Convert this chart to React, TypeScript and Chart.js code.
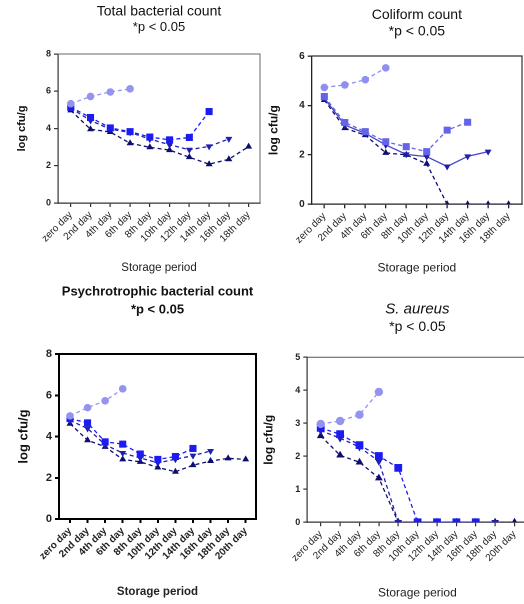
import React, { useEffect, useRef } from 'react';
import { Chart, registerables } from 'chart.js';

Chart.register(...registerables);

// ---------- categories ----------
const days10 = ['zero day', '2nd day', '4th day', '6th day', '8th day', '10th day', '12th day', '14th day', '16th day', '18th day'];
const days11 = ['zero day', '2nd day', '4th day', '6th day', '8th day', '10th day', '12th day', '14th day', '16th day', '18th day', '20th day'];

// ---------- Total bacterial count ----------
const tbcCircle = [5.33, 5.72, 5.96, 6.13];
const tbcSquare = [5.14, 4.59, 4.03, 3.83, 3.54, 3.39, 3.52, 4.91];
const tbcInvTri = [5.09, 4.43, 3.96, 3.79, 3.43, 3.13, 2.86, 3.04, 3.44];
const tbcTri = [4.97, 3.96, 3.81, 3.21, 2.99, 2.84, 2.46, 2.08, 2.35, 3.03];

// ---------- Coliform count ----------
const colCircle = [4.73, 4.83, 5.04, 5.52];
const colSquare = [4.36, 3.31, 2.94, 2.53, 2.33, 2.13, 3.0, 3.32];
const colInvTri = [4.29, 3.21, 2.87, 2.4, 2.02, 1.93, 1.53, 1.94, 2.13];
const colTri = [4.22, 3.08, 2.8, 2.08, 2.0, 1.64, 0, 0, 0, 0];

// ---------- Psychrotrophic bacterial count ----------
const psyCircle = [5.0, 5.4, 5.73, 6.31];
const psySquare = [4.87, 4.66, 3.74, 3.63, 3.15, 2.89, 3.03, 3.42];
const psyInvTri = [4.78, 4.39, 3.6, 3.2, 2.96, 2.72, 2.9, 3.07, 3.3];
const psyTri = [4.62, 3.82, 3.5, 2.89, 2.77, 2.5, 2.29, 2.61, 2.81, 2.94, 2.89];

// ---------- S. aureus ----------
const sauCircle = [2.98, 3.07, 3.26, 3.95];
const sauSquare = [2.86, 2.67, 2.34, 2.01, 1.65, 0, 0, 0, 0];
const sauInvTri = [2.78, 2.55, 2.28, 1.85, 0, 0, 0, 0, 0, 0];
const sauTri = [2.62, 2.03, 1.82, 1.34, 0, 0, 0, 0, 0, 0, 0];

const yTicks8 = 2;
const yTicks5 = 1;

const FONT = "'Liberation Sans', Arial, sans-serif";

const C_CIRCLE = '#9494f0';
const C_SQUARE = '#1c1cf2';
const C_INVTRI = '#1f1fb0';
const C_TRI = '#0e0e6e';

const boxPlugin = {
  id: 'plotBox',
  beforeDatasetsDraw(chart: any, _args: any, opts: any) {
    const { ctx, chartArea: a } = chart;
    ctx.save();
    ctx.strokeStyle = opts.color || '#555';
    ctx.lineWidth = opts.width || 1;
    ctx.beginPath();
    ctx.moveTo(a.left, a.top);
    ctx.lineTo(a.right, a.top);
    ctx.lineTo(a.right, a.bottom);
    ctx.stroke();
    ctx.restore();
  },
};

function series(values: number[], color: string, style: string, opts: any = {}) {
  return {
    data: values.map((v, i) => ({ x: i, y: v })),
    borderColor: opts.lineColor || color,
    backgroundColor: color,
    pointBackgroundColor: color,
    pointBorderColor: color,
    pointBorderWidth: 0,
    pointStyle: style,
    pointRotation: opts.rotation || 0,
    pointRadius: opts.radius || 4,
    borderWidth: opts.lineWidth || 1.3,
    borderDash: opts.solid ? [] : [4, 3],
    fill: false,
    tension: 0,
  };
}

function buildConfig(p: any) {
  return {
    type: 'line',
    data: { datasets: p.datasets },
    plugins: [boxPlugin],
    options: {
      animation: false,
      responsive: false,
      devicePixelRatio: 2,
      layout: { padding: p.padding },
      plugins: {
        legend: { display: false },
        tooltip: { enabled: false },
        plotBox: { color: p.boxColor, width: p.boxWidth },
        title: {
          display: true,
          text: p.title,
          fullSize: false,
          color: '#111',
          font: { family: FONT, size: p.titleSize, weight: p.titleWeight, style: p.titleStyle || 'normal', lineHeight: 1.2 },
          padding: p.titlePad,
        },
        subtitle: {
          display: true,
          text: '*p < 0.05',
          fullSize: false,
          color: '#111',
          font: { family: FONT, size: p.subSize, weight: p.titleWeight, lineHeight: 1.2 },
          padding: p.subPad,
        },
      },
      scales: {
        x: {
          type: 'linear',
          min: p.xMin,
          max: p.xMax,
          afterBuildTicks: (s: any) => {
            s.ticks = p.labels.map((_: string, i: number) => ({ value: i }));
          },
          afterFit: (s: any) => {
            s.height = p.xH;
          },
          ticks: {
            autoSkip: false,
            includeBounds: false,
            minRotation: 45,
            maxRotation: 45,
            padding: 2,
            color: '#222',
            font: { family: FONT, size: p.xTickSize, weight: p.xTickWeight },
            callback: (v: any) => p.labels[Math.round(v)] ?? '',
          },
          grid: { drawOnChartArea: false, drawTicks: true, tickLength: 4, color: p.axisColor, lineWidth: p.axisWidth },
          border: { display: true, color: p.axisColor, width: p.axisWidth },
          title: {
            display: true,
            text: 'Storage period',
            color: '#222',
            font: { family: FONT, size: p.xTitleSize, weight: p.xTitleWeight, lineHeight: 1.2 },
            padding: { top: 0, bottom: 0 },
          },
        },
        y: {
          min: 0,
          max: p.yMax,
          afterFit: (s: any) => {
            s.width = p.yW;
          },
          ticks: {
            stepSize: p.yStep,
            padding: 3,
            color: '#222',
            font: { family: FONT, size: p.yTickSize, weight: 'bold' },
          },
          grid: { drawOnChartArea: false, drawTicks: true, tickLength: 4, color: p.axisColor, lineWidth: p.axisWidth },
          border: { display: true, color: p.axisColor, width: p.axisWidth },
          title: {
            display: true,
            text: 'log cfu/g',
            color: '#111',
            font: { family: FONT, size: p.yTitleSize, weight: 'bold', lineHeight: 1.2 },
            padding: { top: 0, bottom: 0 },
          },
        },
      },
    },
  };
}

const panels: any[] = [
  {
    key: 'tbc',
    left: 0, top: 0, w: 265, h: 280,
    padding: { left: 15.4, right: 0, top: 0, bottom: 5.4 },
    yW: 42.6, xH: 71.6,
    title: 'Total bacterial count', titleSize: 14, titleWeight: 'normal',
    titlePad: { top: 3, bottom: 0 }, subSize: 13, subPad: { top: 0, bottom: 18.6 },
    xMin: -0.646, xMax: 9.575, yMax: 8, yStep: yTicks8,
    labels: days10,
    yTitleSize: 11, xTitleSize: 11.5, xTitleWeight: 'normal',
    yTickSize: 9, xTickSize: 10, xTickWeight: 'normal',
    axisColor: '#333', axisWidth: 1.2, boxColor: '#666', boxWidth: 1,
    datasets: [
      series(tbcCircle, C_CIRCLE, 'circle', { radius: 3.8 }),
      series(tbcSquare, C_SQUARE, 'rect', { radius: 5 }),
      series(tbcInvTri, C_INVTRI, 'triangle', { rotation: 180, radius: 4 }),
      series(tbcTri, C_TRI, 'triangle', { radius: 4 }),
    ],
  },
  {
    key: 'col',
    left: 262, top: 0, w: 265, h: 280,
    padding: { left: 4.8, right: 0, top: 0, bottom: 4.8 },
    yW: 44.9, xH: 70.9,
    title: 'Coliform count', titleSize: 14, titleWeight: 'normal',
    titlePad: { top: 6.6, bottom: 0 }, subSize: 14, subPad: { top: 0, bottom: 15.8 },
    xMin: -0.617, xMax: 9.655, yMax: 6, yStep: yTicks8,
    labels: days10,
    yTitleSize: 12, xTitleSize: 12, xTitleWeight: 'normal',
    yTickSize: 10, xTickSize: 10, xTickWeight: 'normal',
    axisColor: '#222', axisWidth: 1.3, boxColor: '#333', boxWidth: 1.2,
    datasets: [
      series(colCircle, '#8f8ff0', 'circle', { radius: 3.8 }),
      series(colSquare, '#6464ea', 'rect', { radius: 5 }),
      series(colInvTri, '#2020a8', 'triangle', { rotation: 180, radius: 4, solid: true, lineColor: '#4444cc' }),
      series(colTri, C_TRI, 'triangle', { radius: 4 }),
    ],
  },
  {
    key: 'psy',
    left: 0, top: 280, w: 262, h: 324,
    padding: { left: 16.2, right: 6, top: 0, bottom: 5.4 },
    yW: 42.8, xH: 79.6,
    title: 'Psychrotrophic bacterial count', titleSize: 13, titleWeight: 'bold',
    titlePad: { top: 4.2, bottom: 2.4 }, subSize: 13, subPad: { top: 0, bottom: 36.2 },
    xMin: -0.626, xMax: 10.586, yMax: 8, yStep: yTicks8,
    labels: days11,
    yTitleSize: 13, xTitleSize: 11.5, xTitleWeight: 'bold',
    yTickSize: 11, xTickSize: 10, xTickWeight: 'bold',
    axisColor: '#000', axisWidth: 2, boxColor: '#000', boxWidth: 2,
    datasets: [
      series(psyCircle, C_CIRCLE, 'circle', { radius: 3.8 }),
      series(psySquare, C_SQUARE, 'rect', { radius: 5 }),
      series(psyInvTri, C_INVTRI, 'triangle', { rotation: 180, radius: 4 }),
      series(psyTri, C_TRI, 'triangle', { radius: 4 }),
    ],
  },
  {
    key: 'sau',
    left: 262, top: 280, w: 271, h: 324,
    padding: { left: 0, right: 0, top: 0, bottom: 3.8 },
    yW: 45.3, xH: 77.9,
    title: 'S. aureus', titleSize: 15, titleWeight: 'normal', titleStyle: 'italic',
    titlePad: { top: 20.5, bottom: 0 }, subSize: 14, subPad: { top: 0, bottom: 22 },
    xMin: -0.693, xMax: 10.67, yMax: 5, yStep: yTicks5,
    labels: days11,
    yTitleSize: 12, xTitleSize: 12, xTitleWeight: 'normal',
    yTickSize: 9, xTickSize: 10, xTickWeight: 'normal',
    axisColor: '#333', axisWidth: 1.2, boxColor: '#555', boxWidth: 1,
    datasets: [
      series(sauCircle, C_CIRCLE, 'circle', { radius: 4.2 }),
      series(sauSquare, C_SQUARE, 'rect', { radius: 5.5 }),
      series(sauInvTri, C_INVTRI, 'triangle', { rotation: 180, radius: 4.5 }),
      series(sauTri, C_TRI, 'triangle', { radius: 4.5 }),
    ],
  },
];

function Panel({ spec }: { spec: any }) {
  const ref = useRef<HTMLCanvasElement | null>(null);
  useEffect(() => {
    if (!ref.current) return;
    const chart = new Chart(ref.current, buildConfig(spec) as any);
    return () => chart.destroy();
  }, [spec]);
  return (
    <div style={{ position: 'absolute', left: spec.left, top: spec.top, width: spec.w, height: spec.h }}>
      <canvas ref={ref} width={spec.w} height={spec.h} style={{ width: spec.w, height: spec.h, display: 'block' }} />
    </div>
  );
}

export default function App() {
  return (
    <div style={{ position: 'absolute', left: 0, top: 0, width: 524, height: 604, overflow: 'hidden', background: '#fff' }}>
      {panels.map((p) => (
        <Panel key={p.key} spec={p} />
      ))}
    </div>
  );
}
